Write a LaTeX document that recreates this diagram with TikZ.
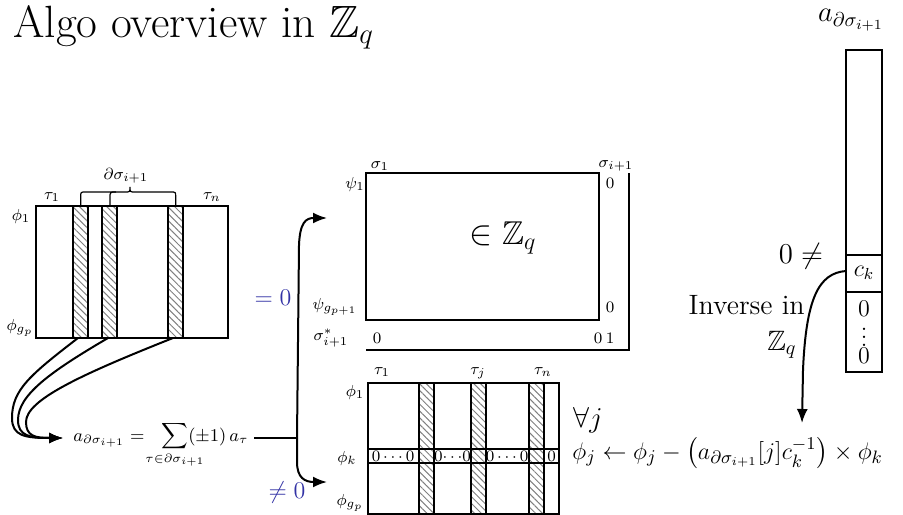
\documentclass[tikz,border=0pt]{standalone}
\usepackage{amsmath,amssymb,mathtools}
\usetikzlibrary{arrows.meta,patterns.meta}
\definecolor{myblue}{RGB}{50,50,165}
\tikzset{
  mat/.style={line width=1pt},
  hatchcol/.style={line width=1pt, pattern={Lines[angle=-45,distance=2.4pt,line width=0.5pt]}, pattern color=gray},
  conn/.style={line width=1pt, -{Latex[length=7pt,width=5.5pt]}},
  plain/.style={line width=1pt},
  bracel/.style={line width=0.6pt},
  lab/.style={font=\fontsize{8}{9}\selectfont, inner sep=0pt},
  zlab/.style={font=\fontsize{8.5}{10}\selectfont, inner sep=0pt},
  big/.style={font=\fontsize{14}{16}\selectfont, inner sep=0pt},
  mid/.style={font=\fontsize{12}{14}\selectfont, inner sep=0pt},
  bluelab/.style={font=\fontsize{13}{15}\selectfont, inner sep=0pt, text=myblue},
}
\begin{document}
\begin{tikzpicture}[x=0.5pt,y=-0.5pt]
\useasboundingbox (0,0) rectangle (903,514);

% title
\node[anchor=base west, font=\fontsize{22.6}{27}\selectfont, inner sep=0pt] (title) at (13,37) {Algo overview in $\mathbb{Z}_q$};

% ---------------- left matrix
\draw[hatchcol] (73.3,206) rectangle (88,338);
\draw[hatchcol] (102.3,206) rectangle (117.3,338);
\draw[hatchcol] (168.3,206) rectangle (183,338);
\draw[mat] (36,206) rectangle (228,338);
\node[lab] (lt1) at (52,197) {$\tau_1$};
\node[lab] (ltn) at (212,197) {$\tau_n$};
\node[lab] (lp1) at (21,216) {$\phi_1$};
\node[lab] (lpg) at (20,328) {$\phi_{g_p}$};
% brace
\draw[bracel] (80.7,205) -- (80.7,197) .. controls (80.7,192) .. (85.7,192) -- (125,192)
   .. controls (130,192) .. (130,187) .. controls (130,192) .. (135,192) -- (170.7,192)
   .. controls (175.7,192) .. (175.7,197) -- (175.7,205);
\draw[bracel] (110,205) -- (110,198) .. controls (110,192) .. (116,192);
\node[lab] (bd) at (126,176) {$\partial\sigma_{i+1}$};

\coordinate (b1) at (78,338);
\coordinate (b2) at (108,338);
\coordinate (b3) at (173,338);
\coordinate (sumin) at (63,438);
\coordinate (sumout) at (254,438);
\coordinate (split) at (297,438);
\coordinate (tozero) at (327,218);
\coordinate (tonz) at (327,482);

\draw[conn] (b1) .. controls (30,375) and (12,390) .. (12,418) .. controls (12,436) and (25,438) .. (sumin);
\draw[conn] (b2) .. controls (50,372) and (18,395) .. (18,420) .. controls (18,436) and (30,438) .. (sumin);
\draw[conn] (b3) .. controls (80,375) and (26,400) .. (26,422) .. controls (26,436) and (35,438) .. (sumin);

\node[anchor=base west, font=\fontsize{9}{11}\selectfont, inner sep=0pt] (sumf) at (73,441)
  {$a_{\partial\sigma_{i+1}} = \hspace{6pt}\displaystyle\sum_{\mathclap{\tau\in\partial\sigma_{i+1}}}(\pm 1)\, a_\tau$};

\draw[plain] (sumout) -- (split);
\draw[conn] (split) -- (299,245) .. controls (300,222) and (306,218) .. (tozero);
\draw[conn] (split) -- (297,462) .. controls (297,478) and (305,482) .. (tonz);
\node[bluelab] (eq0) at (273,298) {$=0$};
\node[bluelab] (ne0) at (287,492) {$\neq 0$};

% ---------------- upper matrix
\draw[mat] (366,173) rectangle (599,320);
\draw[mat] (629,173) -- (629,350) -- (366,350);
\node[lab] (us1) at (380,166) {$\sigma_1$};
\node[lab] (usi) at (616,166) {$\sigma_{i+1}$};
\node[lab] (up1) at (355,184) {$\psi_1$};
\node[lab] (upg) at (335,307) {$\psi_{g_{p+1}}$};
\node[lab] (uss) at (331,338) {$\sigma^*_{i+1}$};
\node[zlab] (uz1) at (610,183) {$0$};
\node[zlab] (uz2) at (610,307) {$0$};
\node[zlab] (uz3) at (377,338) {$0$};
\node[zlab] (uz4) at (598,338) {$0$};
\node[zlab] (uz5) at (610,338) {$1$};
\node[font=\fontsize{16.5}{19}\selectfont, inner sep=0pt] (inz) at (503,238) {$\in\mathbb{Z}_q$};

% ---------------- lower matrix
\draw[mat] (368,449) rectangle (559,463.3);
\draw[hatchcol] (419.3,383) rectangle (434,514);
\draw[hatchcol] (471,383) rectangle (485.7,514);
\draw[hatchcol] (529.3,383) rectangle (544,514);
\draw[mat] (368,383) rectangle (559,513.5);
\draw[mat] (368,449) -- (559,449) (368,463.3) -- (559,463.3);
\node[zlab] (r1) at (393,456) {$0\cdots0$};
\node[zlab] (r2) at (452.5,456) {$0\!\cdots\!0$};
\node[zlab] (r3) at (507,456) {$0\cdots0$};
\node[zlab] (r4) at (551.5,456) {$0$};
\node[lab] (bt1) at (382,372) {$\tau_1$};
\node[lab] (btj) at (478,373) {$\tau_j$};
\node[lab] (btn) at (543,372) {$\tau_n$};
\node[lab] (bp1) at (355,392) {$\phi_1$};
\node[lab] (bpk) at (347,458) {$\phi_k$};
\node[lab] (bpg) at (350,503) {$\phi_{g_p}$};

\node[big, anchor=base west] (forall) at (573,427) {$\forall j$};
\node[anchor=base west, font=\fontsize{13}{16}\selectfont, inner sep=0pt] (upd) at (572,459)
  {$\phi_j \leftarrow \phi_j - \bigl(a_{\partial\sigma_{i+1}}[j]c_k^{-1}\bigr) \times \phi_k$};

% ---------------- column vector
\draw[mat] (846,50) rectangle (882,372);
\draw[mat] (846,255) -- (882,255) (846,292) -- (882,292);
\node[mid] (ck) at (864,273) {$c_k$};
\node[mid] (cz1) at (864,309) {$0$};
\node[mid] (cdots) at (864,331) {$\vdots$};
\node[mid] (cz2) at (864,356) {$0$};
\node[big] (avec) at (851,20) {$a_{\partial\sigma_{i+1}}$};
\node[big] (neq) at (801,256) {$0\neq$};
\node[big, anchor=base east] (inv) at (805,314) {Inverse in};
\node[big, anchor=base east] (zq) at (797,350) {$\mathbb{Z}_q$};
\coordinate (ckw) at (846,271);
\coordinate (updtop) at (802,423);
\draw[conn] (ckw) .. controls (818,273) and (806,300) .. (803,370) -- (updtop);
\end{tikzpicture}
\end{document}
